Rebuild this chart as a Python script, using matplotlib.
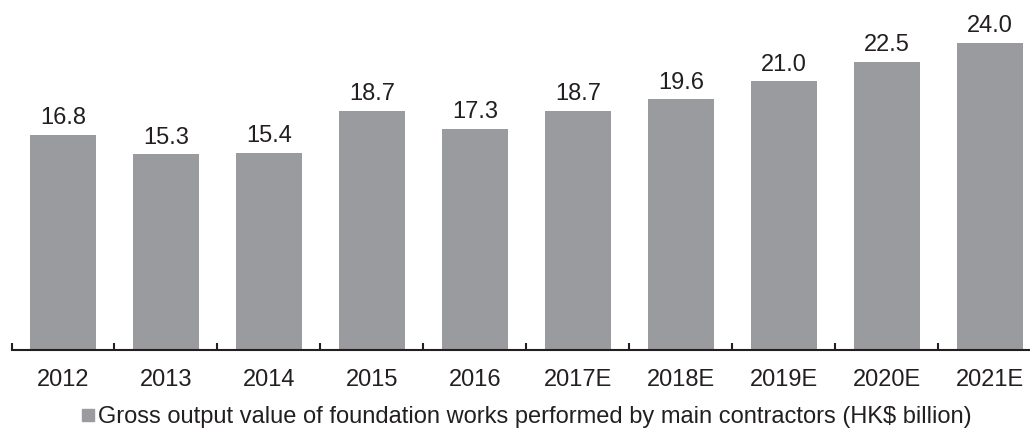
import matplotlib
matplotlib.use("Agg")
import matplotlib.pyplot as plt
from matplotlib.lines import Line2D
import numpy as np

plt.rcParams['font.family'] = ['Liberation Sans', 'DejaVu Sans']

years = ["2012", "2013", "2014", "2015", "2016", "2017E", "2018E", "2019E", "2020E", "2021E"]
values = [16.8, 15.3, 15.4, 18.7, 17.3, 18.7, 19.6, 21.0, 22.5, 24.0]
legend_label = "Gross output value of foundation works performed by main contractors (HK$ billion)"

bar_color = "#9a9b9f"
text_color = "#231f20"

fig = plt.figure(figsize=(10.30, 4.32), dpi=100)
# axes placed in pixel terms: x from 11.5 to 1030, y baseline at 350px from top
ax = fig.add_axes([11.5 / 1030, 82 / 432, (1030 - 11.5) / 1030, 350 / 432])

x = np.arange(len(years))
bars = ax.bar(x, values, width=0.64, color=bar_color)

for xi, v in zip(x, values):
    ax.annotate(f"{v:.1f}", (xi, v), xytext=(0, 4), textcoords="offset points",
                ha="center", va="bottom", fontsize=17, color=text_color)

ax.set_xlim(-0.5, 9.39)
ax.set_ylim(0, 350 / 12.8)

for s in ["top", "right", "left"]:
    ax.spines[s].set_visible(False)
ax.spines["bottom"].set_color(text_color)
ax.spines["bottom"].set_linewidth(1.5)
ax.set_yticks([])

ax.set_xticks(x)
ax.set_xticklabels(years, fontsize=17, color=text_color)
ax.tick_params(axis="x", which="major", length=0, pad=14)
ax.set_xticks(np.arange(-0.5, 9.0, 1.0), minor=True)
ax.tick_params(axis="x", which="minor", length=5, width=1.5, direction="in", color=text_color)

handle = Line2D([], [], marker="s", linestyle="none", markersize=9, color=bar_color)
fig.legend([handle], [legend_label], loc="center", bbox_to_anchor=(0.511, 0.034),
           frameon=False, fontsize=17, handlelength=0.6, handletextpad=0.15,
           labelcolor=text_color, borderpad=0)

fig.savefig("out.png", dpi=100)
